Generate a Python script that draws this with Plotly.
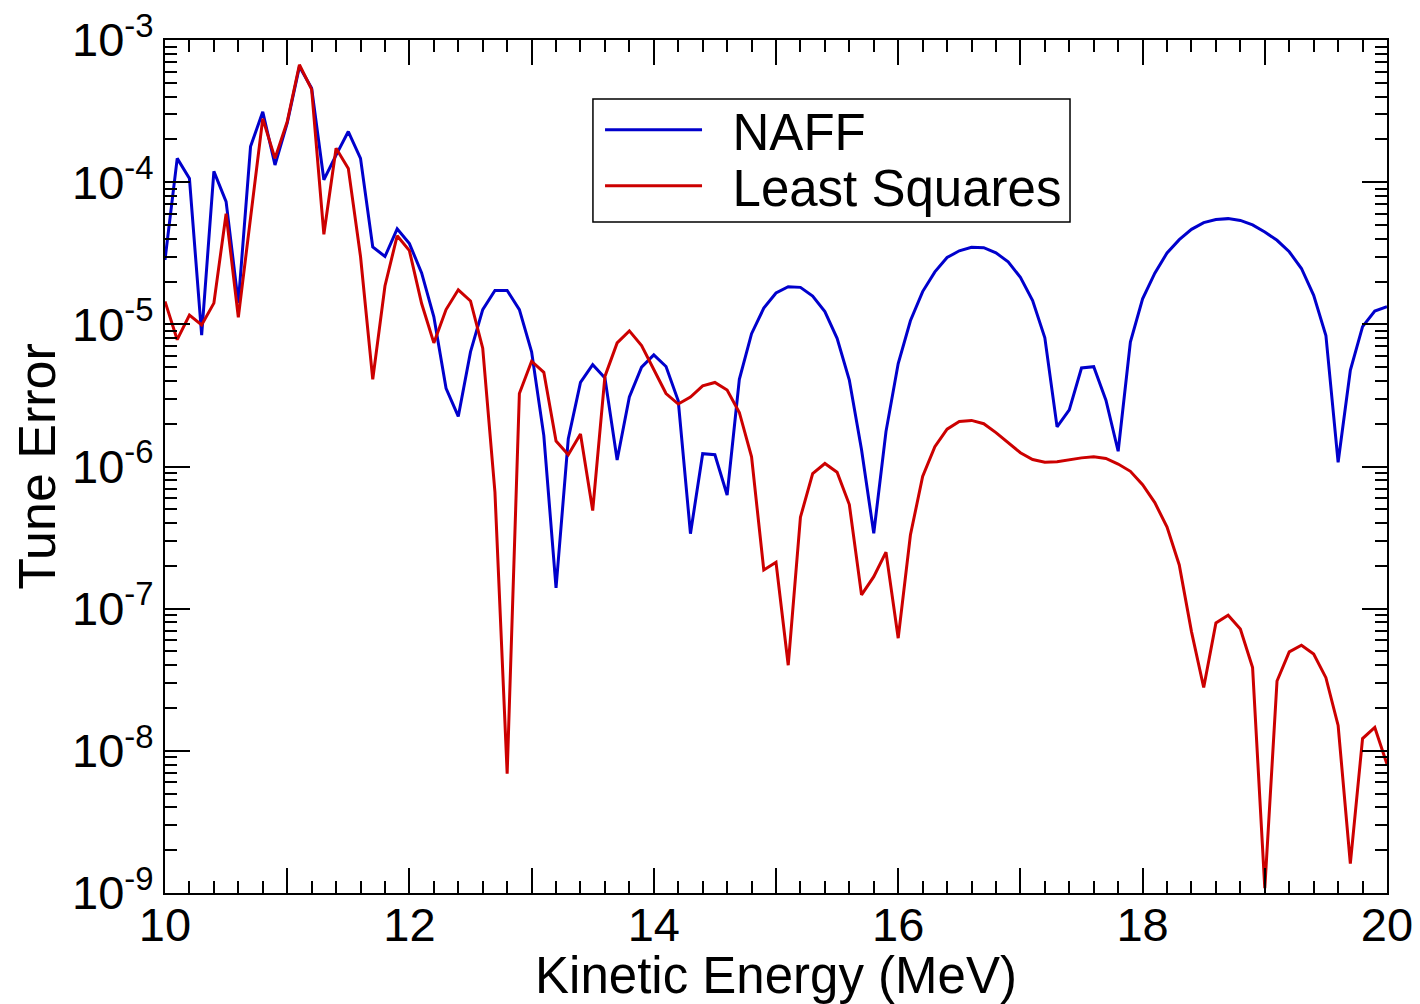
import plotly.graph_objects as go

energy_mev = [
    10.0, 10.1, 10.2, 10.3, 10.4, 10.5, 10.6, 10.7, 10.8, 10.9,
    11.0, 11.1, 11.2, 11.3, 11.4, 11.5, 11.6, 11.7, 11.8, 11.9,
    12.0, 12.1, 12.2, 12.3, 12.4, 12.5, 12.6, 12.7, 12.8, 12.9,
    13.0, 13.1, 13.2, 13.3, 13.4, 13.5, 13.6, 13.7, 13.8, 13.9,
    14.0, 14.1, 14.2, 14.3, 14.4, 14.5, 14.6, 14.7, 14.8, 14.9,
    15.0, 15.1, 15.2, 15.3, 15.4, 15.5, 15.6, 15.7, 15.8, 15.9,
    16.0, 16.1, 16.2, 16.3, 16.4, 16.5, 16.6, 16.7, 16.8, 16.9,
    17.0, 17.1, 17.2, 17.3, 17.4, 17.5, 17.6, 17.7, 17.8, 17.9,
    18.0, 18.1, 18.2, 18.3, 18.4, 18.5, 18.6, 18.7, 18.8, 18.9,
    19.0, 19.1, 19.2, 19.3, 19.4, 19.5, 19.6, 19.7, 19.8, 19.9,
    20.0,
]

naff_error = [
    2.84e-5, 1.47e-4, 1.06e-4, 8.4e-6, 1.19e-4, 7.3e-5, 1.41e-5, 1.78e-4, 3.13e-4, 1.32e-4,
    2.6e-4, 6.5e-4, 4.57e-4, 1.04e-4, 1.55e-4, 2.27e-4, 1.47e-4, 3.5e-5, 3.0e-5, 4.7e-5,
    3.7e-5, 2.3e-5, 1.13e-5, 3.55e-6, 2.25e-6, 6.4e-6, 1.27e-5, 1.73e-5, 1.73e-5, 1.27e-5,
    6.4e-6, 1.65e-6, 1.4e-7, 1.56e-6, 3.9e-6, 5.2e-6, 4.2e-6, 1.11e-6, 3.08e-6, 5.0e-6,
    6.1e-6, 5.05e-6, 2.9e-6, 3.37e-7, 1.23e-6, 1.21e-6, 6.3e-7, 4.1e-6, 8.6e-6, 1.3e-5,
    1.66e-5, 1.84e-5, 1.82e-5, 1.58e-5, 1.23e-5, 7.97e-6, 4.06e-6, 1.31e-6, 3.39e-7, 1.76e-6,
    5.3e-6, 1.06e-5, 1.7e-5, 2.34e-5, 2.95e-5, 3.29e-5, 3.48e-5, 3.46e-5, 3.18e-5, 2.75e-5,
    2.14e-5, 1.47e-5, 8.05e-6, 1.9e-6, 2.5e-6, 4.93e-6, 5.04e-6, 2.93e-6, 1.28e-6, 7.5e-6,
    1.51e-5, 2.29e-5, 3.18e-5, 3.94e-5, 4.66e-5, 5.19e-5, 5.46e-5, 5.54e-5, 5.38e-5, 5.0e-5,
    4.46e-5, 3.9e-5, 3.24e-5, 2.47e-5, 1.6e-5, 8.35e-6, 1.07e-6, 4.75e-6, 9.64e-6, 1.24e-5,
    1.33e-5,
]

least_squares_error = [
    1.45e-5, 7.8e-6, 1.16e-5, 9.9e-6, 1.41e-5, 6.0e-5, 1.12e-5, 5.7e-5, 2.8e-4, 1.47e-4,
    2.66e-4, 6.7e-4, 4.5e-4, 4.3e-5, 1.73e-4, 1.25e-4, 3.0e-5, 4.1e-6, 1.86e-5, 4.2e-5,
    3.3e-5, 1.4e-5, 7.4e-6, 1.27e-5, 1.75e-5, 1.46e-5, 6.8e-6, 6.6e-7, 6.9e-9, 3.26e-6,
    5.5e-6, 4.6e-6, 1.51e-6, 1.21e-6, 1.69e-6, 4.9e-7, 4.3e-6, 7.4e-6, 9.0e-6, 7.1e-6,
    4.8e-6, 3.26e-6, 2.75e-6, 3.08e-6, 3.69e-6, 3.9e-6, 3.45e-6, 2.4e-6, 1.17e-6, 1.87e-7,
    2.12e-7, 4.0e-8, 4.4e-7, 8.9e-7, 1.05e-6, 9.1e-7, 5.4e-7, 1.25e-7, 1.68e-7, 2.5e-7,
    6.2e-8, 3.3e-7, 8.5e-7, 1.38e-6, 1.83e-6, 2.07e-6, 2.11e-6, 2.0e-6, 1.73e-6, 1.48e-6,
    1.25e-6, 1.12e-6, 1.07e-6, 1.08e-6, 1.12e-6, 1.15e-6, 1.17e-6, 1.14e-6, 1.04e-6, 9.25e-7,
    7.44e-7, 5.57e-7, 3.75e-7, 2.03e-7, 6.9e-8, 2.79e-8, 7.94e-8, 8.98e-8, 7.2e-8, 3.85e-8,
    1.08e-9, 3.1e-8, 4.97e-8, 5.53e-8, 4.79e-8, 3.27e-8, 1.51e-8, 1.61e-9, 1.22e-8, 1.46e-8,
    8.05e-9,
]

series_names = ["NAFF", "Least Squares"]
series_colors = ["#0000cc", "#cc0000"]
x_tick_values = [10, 11, 12, 13, 14, 15, 16, 17, 18, 19, 20]
x_tick_labels = ["10", "", "12", "", "14", "", "16", "", "18", "", "20"]
y_exponents = [-9, -8, -7, -6, -5, -4, -3]
y_tick_values = [10.0 ** e for e in y_exponents]
y_tick_labels = ["10<sup>%d</sup>" % e for e in y_exponents]
y_minor_values = [k * 10.0 ** e for e in y_exponents[:-1] for k in range(2, 10)]

FONT = "Liberation Sans, Arial, sans-serif"
GAP = "\u2002"

fig = go.Figure()
fig.add_trace(go.Scatter(
    x=energy_mev, y=naff_error, mode="lines", name=GAP + series_names[0],
    line=dict(color=series_colors[0], width=3), legend="legend",
))
fig.add_trace(go.Scatter(
    x=energy_mev, y=least_squares_error, mode="lines", name=GAP + series_names[1],
    line=dict(color=series_colors[1], width=3), legend="legend2",
))

axis_common = dict(
    showline=True, linecolor="black", linewidth=2, mirror="allticks",
    ticks="inside", tickcolor="black", tickwidth=1.5, ticklen=25,
    showgrid=False, zeroline=False, automargin=False,
    ticklabeloverflow="allow",
    tickfont=dict(family=FONT, size=47, color="black"),
)

fig.update_xaxes(
    range=[10, 20],
    tickmode="array", tickvals=x_tick_values, ticktext=x_tick_labels,
    minor=dict(ticks="inside", ticklen=12, tickcolor="black", tickwidth=1.5, dtick=0.2, showgrid=False),
    ticklabelstandoff=-10,
    title=dict(text="Kinetic Energy (MeV)", font=dict(family=FONT, size=51, color="black"), standoff=6),
    **axis_common,
)
fig.update_yaxes(
    type="log", range=[-9, -3],
    tickmode="array", tickvals=y_tick_values, ticktext=y_tick_labels,
    minor=dict(ticks="inside", ticklen=12, tickcolor="black", tickwidth=1.5,
               tickmode="array", tickvals=y_minor_values, showgrid=False),
    title=dict(text="Tune Error", font=dict(family=FONT, size=52, color="black"), standoff=6),
    **axis_common,
)

legend_common = dict(
    x=0.356, xanchor="left", yanchor="middle",
    bgcolor="rgba(0,0,0,0)", borderwidth=0,
    font=dict(family=FONT, size=51, color="black"),
    itemwidth=97,
)

# legend frame
fig.add_shape(
    type="rect", xref="paper", yref="paper",
    x0=0.3502, x1=0.7406, y0=0.7866, y1=0.9308,
    line=dict(color="black", width=1.5), fillcolor="white", layer="below",
)

# figure is sized so that, with the page's 8px body margin, it fills the 1420x1004 window
fig.update_layout(
    width=1412, height=996,
    margin=dict(l=157, r=33, t=32, b=111),
    paper_bgcolor="white", plot_bgcolor="white",
    showlegend=True,
    legend=dict(y=0.8945, **legend_common),
    legend2=dict(y=0.8288, **legend_common),
)

fig.write_html("out.html")
